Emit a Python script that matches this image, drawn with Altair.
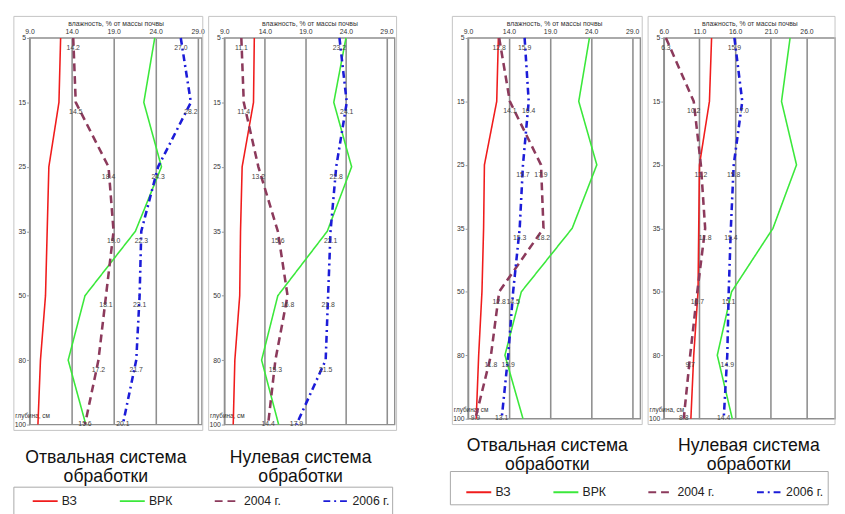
import altair as alt
import pandas as pd

# ---------------- data ----------------
DEPTHS = [5, 15, 25, 35, 50, 80, 100]
SERIES = ["ВЗ", "ВРК", "2004 г.", "2006 г."]
COLORS = ["#f01c1c", "#3be83b", "#8c3a5c", "#1c1cd8"]
DASHES = [[1, 0], [1, 0], [8, 5], [7, 4, 2, 4]]

# left picture, "Отвальная"
VZ_1 = [12.7, 12.5, 11.3, 11.1, 10.9, 10.3, 10.0]
VRK_1 = [23.9, 22.6, 24.7, 21.6, 15.6, 13.6, 15.7]
Y2004_1 = [14.2, 14.5, 18.4, 19.0, 18.1, 17.2, 15.6]
Y2006_1 = [27.0, 28.2, 24.3, 22.3, 22.1, 21.7, 20.1]

# left picture, "Нулевая"
VZ_2 = [12.7, 12.6, 11.2, 11.0, 10.9, 10.3, 10.1]
VRK_2 = [24.0, 22.5, 24.7, 21.7, 15.6, 13.6, 15.7]
Y2004_2 = [11.1, 11.4, 13.2, 15.6, 16.8, 15.3, 14.4]
Y2006_2 = [23.2, 24.1, 22.8, 22.1, 21.8, 21.5, 17.9]

# right picture, "Отвальная"
VZ_3 = [12.7, 12.5, 11.0, 10.9, 10.7, 10.3, 10.0]
VRK_3 = [23.8, 22.5, 24.7, 21.7, 15.5, 13.5, 15.7]
Y2004_3 = [12.8, 14.1, 17.9, 18.2, 12.8, 11.8, 9.9]
Y2006_3 = [15.9, 16.4, 15.7, 15.3, 14.5, 13.9, 13.1]

# right picture, "Нулевая"
VZ_4 = [12.7, 12.4, 11.0, 10.9, 10.8, 10.2, 9.8]
VRK_4 = [23.7, 22.5, 24.6, 21.3, 15.5, 13.5, 15.6]
Y2004_4 = [6.3, 10.2, 11.2, 11.8, 10.7, 9.7, 8.8]
Y2006_4 = [15.9, 17.0, 15.8, 15.4, 15.1, 14.9, 14.4]

CAPTIONS = ["Отвальная система\nобработки", "Нулевая система\nобработки"]
X_TITLE = "влажность, % от массы почвы"
Y_TITLE = "глубина, см"
TICKS_A = [9, 14, 19, 24, 29]
TICKS_B = [6, 11, 16, 21, 26]

FONT = "Liberation Sans"
SER_LINES = SERIES[:2]
SER_YEARS = SERIES[2:]


def make_df(vz, vrk, y04, y06):
    rows = []
    for name, vals in zip(SERIES, [vz, vrk, y04, y06]):
        for i, (d, v) in enumerate(zip(DEPTHS, vals)):
            rows.append({"series": name, "idx": i, "depth": d, "value": v})
    return pd.DataFrame(rows)


def color_enc(legend=None):
    return alt.Color("series:N", scale=alt.Scale(domain=SERIES, range=COLORS), legend=legend)


def dash_enc(legend=None):
    return alt.StrokeDash("series:N", scale=alt.Scale(domain=SERIES, range=DASHES), legend=legend)


def panel(df, domain, ticks, w, h, frame_right):
    x = alt.X(
        "value:Q",
        scale=alt.Scale(domain=domain, nice=False, zero=False),
        axis=alt.Axis(
            orient="top", values=ticks, format=".1f", title=X_TITLE,
            grid=True, gridColor="#8f8f8f", gridWidth=1.6,
            ticks=False, domain=False, labelFlush=False,
            labelFontSize=7, labelColor="#333", labelPadding=4,
            titleFontSize=7, titleFontWeight="normal", titleColor="#333",
            titlePadding=1,
        ),
    )
    y = alt.Y(
        "depth:O",
        sort=DEPTHS,
        scale=alt.Scale(type="point", padding=0),
        axis=alt.Axis(
            grid=False, domain=False, ticks=True, tickSize=3, tickColor="#999",
            labelFontSize=7, labelColor="#333", labelPadding=1,
            title=Y_TITLE, titleAngle=0, titleX=-15, titleY=h - 9,
            titleAlign="left", titleBaseline="middle", titleFontSize=6.5,
            titleFontWeight="normal", titleColor="#333",
        ),
    )
    base = alt.Chart(df)
    solid = base.transform_filter(
        alt.FieldOneOfPredicate(field="series", oneOf=SER_LINES)
    ).mark_line(strokeWidth=1.6).encode(
        x=x, y=y, color=color_enc(), strokeDash=dash_enc(), order="idx:Q"
    )
    dashed = base.transform_filter(
        alt.FieldOneOfPredicate(field="series", oneOf=SER_YEARS)
    ).mark_line(strokeWidth=2.6).encode(
        x=x, y=y, color=color_enc(), strokeDash=dash_enc(), order="idx:Q"
    )
    years = base.transform_filter(alt.FieldOneOfPredicate(field="series", oneOf=SER_YEARS))
    labels = years.transform_filter("datum.idx < 6").mark_text(
        fontSize=7, dy=10, color="#444"
    ).encode(x=x, y=y, text=alt.Text("value:Q", format=".1f"))
    labels_last = years.transform_filter("datum.idx == 6").mark_text(
        fontSize=7, dy=-1, color="#444"
    ).encode(x=x, y=y, text=alt.Text("value:Q", format=".1f"))
    frame = alt.Chart(pd.DataFrame({"f": [0]})).mark_rect(
        fill="transparent", stroke="#c4c4c4", strokeWidth=1
    ).encode(x=alt.value(-16), x2=alt.value(w + frame_right), y=alt.value(-22), y2=alt.value(h + 6))
    return alt.layer(frame, solid, dashed, labels, labels_last).properties(width=w, height=h)


def bottom_chart(w, h, cap_x, cap_y, box, lx, ly, cp):
    """captions + legend strip under a pair of panels"""
    leg = alt.Legend(
        orient="none", legendX=lx, legendY=ly, direction="horizontal", title=None,
        symbolType="stroke", symbolSize=650, symbolStrokeWidth=2,
        labelFontSize=12.5, labelColor="#222", labelFont=FONT,
        columnPadding=cp, labelOffset=3,
    )
    keys = alt.Chart(pd.DataFrame({"series": SERIES})).mark_line(strokeWidth=2).encode(
        x=alt.value(0), y=alt.value(0),
        color=color_enc(leg), strokeDash=dash_enc(leg),
    )
    frame = alt.Chart(pd.DataFrame({"f": [0]})).mark_rect(
        fill="transparent", stroke="#a8a8a8", strokeWidth=1
    ).encode(x=alt.value(box[0]), x2=alt.value(box[1]), y=alt.value(box[2]), y2=alt.value(box[3]))
    caps = []
    for cx, text in zip(cap_x, CAPTIONS):
        caps.append(
            alt.Chart(pd.DataFrame({"cap": [text]})).mark_text(
                lineBreak="\n", baseline="middle", align="center", fontSize=18,
                lineHeight=19.5, color="#111"
            ).encode(text="cap:N", x=alt.value(cx), y=alt.value(cap_y))
        )
    return alt.layer(frame, keys, *caps).properties(
        width=w, height=h, view=alt.ViewBackground(stroke="transparent")
    )


def indep(c):
    return c.resolve_scale(
        x="independent", y="independent", color="independent", strokeDash="independent"
    ).resolve_axis(x="independent", y="independent").resolve_legend(
        color="independent", strokeDash="independent"
    )


H_L, H_R = 395, 389

p1 = panel(make_df(VZ_1, VRK_1, Y2004_1, Y2006_1), [9, 29.5], TICKS_A, 176, H_L, 1)
p2 = panel(make_df(VZ_2, VRK_2, Y2004_2, Y2006_2), [9, 30], TICKS_A, 174, H_L, 2)
p3 = panel(make_df(VZ_3, VRK_3, Y2004_3, Y2006_3), [9, 30], TICKS_A, 176, H_R, 2)
p4 = panel(make_df(VZ_4, VRK_4, Y2004_4, Y2006_4), [6, 30], TICKS_B, 175, H_R, 0)

# strips with captions + legend under each pair
B1 = bottom_chart(364, 80, [78, 277], 21, [-16, 371, 51, 80], 2, 51, 39)
B2 = bottom_chart(362, 75, [81, 287], 15, [-18, 368, 41, 75], -3, 48, 39)

row1 = indep(alt.hconcat(p1, p2, spacing=1))
g1 = indep(alt.vconcat(row1, B1, spacing=0))
row2 = indep(alt.hconcat(p3, p4, spacing=2))
g2 = indep(alt.vconcat(row2, B2, spacing=0))

chart = indep(alt.hconcat(g1, g2, spacing=51)).properties(
    padding={"left": 4, "top": 1, "right": 0, "bottom": 0}
).configure(font=FONT).configure_view(stroke="#8f8f8f", strokeWidth=1.4)

chart.save("out.html", embed_options={"renderer": "svg", "actions": False})
